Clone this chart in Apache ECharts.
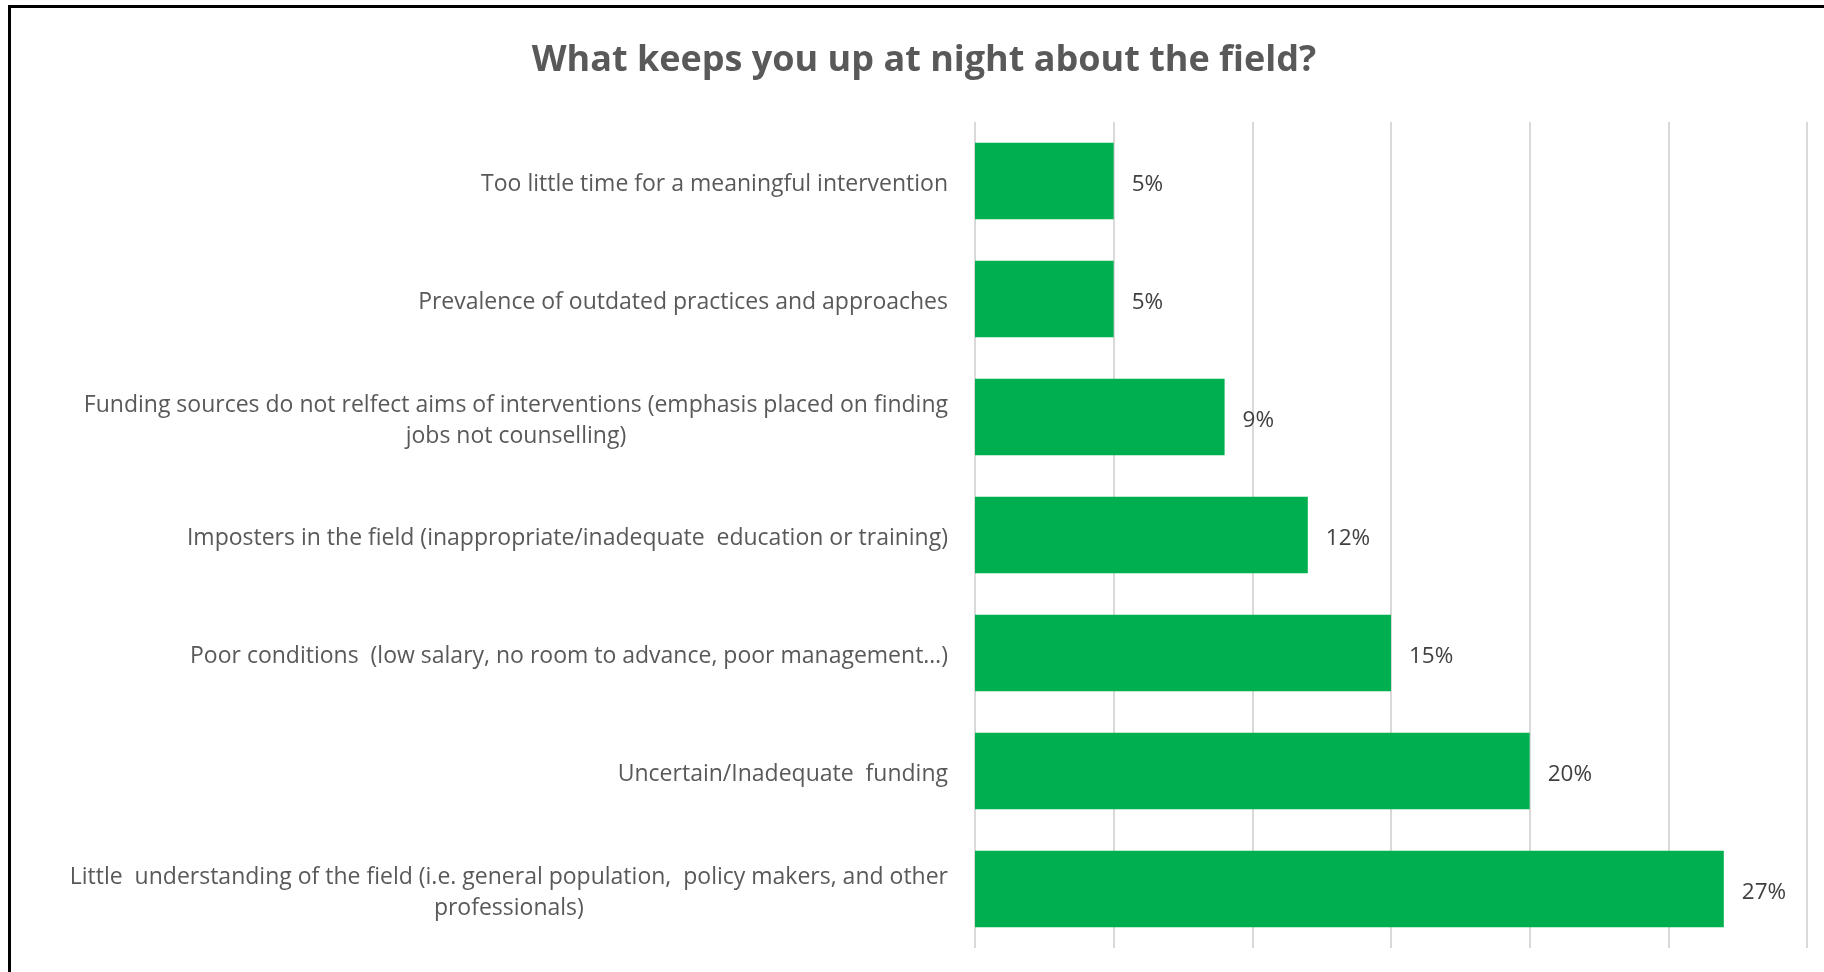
<!DOCTYPE html>
<html>
<head>
<meta charset="utf-8">
<title>What keeps you up at night about the field?</title>
<script src="https://cdn.jsdelivr.net/npm/echarts@6/dist/echarts.min.js"></script>
<style>
  html, body { margin: 0; padding: 0; background: #ffffff; }
  #chart { width: 1824px; height: 972px; }
</style>
</head>
<body>
<div id="chart"></div>
<script>
// Survey answers, listed top to bottom
const categories = [
  'Too little time for a meaningful intervention',
  'Prevalence of outdated practices and approaches',
  'Funding sources do not relfect aims of interventions (emphasis placed on finding\njobs not counselling)',
  'Imposters in the field (inappropriate/inadequate  education or training)',
  'Poor conditions  (low salary, no room to advance, poor management…)',
  'Uncertain/Inadequate  funding',
  'Little  understanding of the field (i.e. general population,  policy makers, and other\nprofessionals)'
];
// Share of respondents, in percent
const shares = [5, 5, 9, 12, 15, 20, 27];
// Value axis range (ticks are not labelled, only gridlines are drawn)
const axisMin = 0;
const axisMax = 30;
const axisStep = 5;

const chart = echarts.init(document.getElementById('chart'), null, { renderer: 'canvas' });

const textFont = '"Open Sans", "Noto Sans", sans-serif';

chart.setOption({
  animation: false,
  backgroundColor: '#ffffff',
  graphic: [
    {
      // frame along the top and left edges
      type: 'rect',
      shape: { x: 9.5, y: 6.5, width: 1900, height: 1000 },
      style: { fill: 'none', stroke: '#000000', lineWidth: 3 },
      silent: true
    },
    {
      type: 'text',
      x: 924,
      y: 61,
      style: {
        text: 'What keeps you up at night about the field?',
        fill: '#595959',
        fontFamily: textFont,
        fontWeight: 'bold',
        fontSize: 36,
        textAlign: 'center',
        textVerticalAlign: 'middle'
      },
      silent: true
    }
  ],
  grid: {
    left: 975,
    right: 17,
    top: 122,
    bottom: 24,
    containLabel: false
  },
  xAxis: {
    type: 'value',
    min: axisMin,
    max: axisMax,
    interval: axisStep,
    axisLine: { show: false },
    axisTick: { show: false },
    axisLabel: { show: false },
    splitLine: { show: true, lineStyle: { color: '#d9d9d9', width: 2 } }
  },
  yAxis: {
    type: 'category',
    data: categories,
    inverse: true,
    axisLine: { show: false },
    axisTick: { show: false },
    axisLabel: {
      margin: 27,
      align: 'right',
      padding: [7, 0, 0, 0],
      formatter: function (value) {
        return value.split('\n').map(function (line) { return '{c|' + line + '}'; }).join('\n');
      },
      rich: {
        c: {
          align: 'center',
          fontFamily: textFont,
          fontSize: 23,
          lineHeight: 31,
          color: '#595959'
        }
      }
    }
  },
  series: [
    {
      type: 'bar',
      data: shares,
      barCategoryGap: '35%',
      itemStyle: { color: '#00AF50' },
      label: {
        show: true,
        position: 'right',
        distance: 18,
        offset: [0, 3.5],
        formatter: '{c}%',
        fontFamily: textFont,
        fontSize: 22.5,
        color: '#404040'
      }
    }
  ]
});
</script>
</body>
</html>
